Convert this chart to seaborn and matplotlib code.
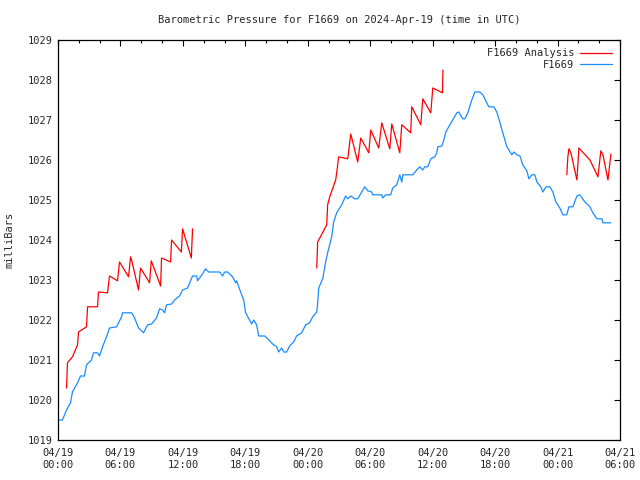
import numpy as np
import pandas as pd
import seaborn as sns
import matplotlib
matplotlib.use("Agg")
import matplotlib.pyplot as plt
from matplotlib.lines import Line2D

# observed pressure, hours since 2024-04-19 00:00 UTC
obs_hours = [0.0, 0.43, 0.82, 1.20, 1.39, 1.88, 2.16, 2.55, 2.74, 3.22, 3.41, 3.80, 3.99, 4.28, 4.66,
             4.95, 5.63, 6.11, 6.20, 7.07, 7.36, 7.74, 8.22, 8.61, 8.99, 9.47, 9.76, 10.05, 10.24,
             10.43, 10.91, 11.20, 11.68, 11.97, 12.45, 12.93, 13.32, 13.41, 13.89, 14.18, 14.47,
             15.53, 15.82, 16.01, 16.30, 16.78, 17.07, 17.16, 17.55, 17.84, 18.03, 18.41, 18.61,
             18.80, 19.09, 19.28, 19.86, 20.34, 20.63, 21.01, 21.20, 21.49, 21.68, 21.97, 22.26,
             22.64, 22.93, 23.41, 23.80, 24.18, 24.47, 24.86, 24.95, 25.05, 25.43, 25.72, 25.91,
             26.30, 26.49, 26.78, 27.26, 27.64, 27.84, 28.13, 28.51, 28.80, 29.47, 29.76, 30.14,
             30.24, 31.11, 31.20, 31.49, 31.97, 32.16, 32.55, 32.84, 33.03, 33.13, 34.09, 34.47,
             34.76, 35.05, 35.24, 35.53, 35.82, 36.20, 36.39, 36.49, 36.88, 37.07, 37.26, 37.55,
             37.93, 38.32, 38.51, 38.89, 39.09, 39.38, 39.76, 40.05, 40.53, 40.82, 41.20, 41.39,
             41.88, 42.16, 42.45, 42.74, 43.13, 43.61, 43.80, 44.09, 44.38, 44.66, 45.05, 45.24,
             45.53, 45.82, 46.01, 46.39, 46.59, 46.88, 47.26, 47.55, 47.84, 48.22, 48.51, 48.89,
             49.09, 49.47, 49.86, 50.14, 50.63, 51.11, 51.39, 51.78, 52.26, 52.36, 53.13]
obs_mb = [1019.50, 1019.50, 1019.75, 1019.93, 1020.20, 1020.43, 1020.60, 1020.60, 1020.88, 1021.00,
          1021.18, 1021.18, 1021.10, 1021.33, 1021.58, 1021.80, 1021.83, 1022.08, 1022.18, 1022.18,
          1022.05, 1021.80, 1021.68, 1021.88, 1021.90, 1022.05, 1022.28, 1022.25, 1022.18, 1022.38,
          1022.40, 1022.50, 1022.60, 1022.75, 1022.80, 1023.10, 1023.10, 1022.98, 1023.15, 1023.28,
          1023.20, 1023.20, 1023.10, 1023.20, 1023.20, 1023.08, 1022.93, 1022.98, 1022.70, 1022.50,
          1022.18, 1022.00, 1021.90, 1022.00, 1021.88, 1021.60, 1021.60, 1021.48, 1021.40, 1021.33,
          1021.20, 1021.30, 1021.20, 1021.20, 1021.35, 1021.45, 1021.60, 1021.68, 1021.88, 1021.93,
          1022.08, 1022.20, 1022.43, 1022.80, 1023.03, 1023.45, 1023.68, 1024.08, 1024.45, 1024.68,
          1024.88, 1025.10, 1025.03, 1025.10, 1025.03, 1025.03, 1025.33, 1025.23, 1025.20, 1025.13,
          1025.13, 1025.05, 1025.13, 1025.13, 1025.30, 1025.38, 1025.63, 1025.45, 1025.63, 1025.63,
          1025.75, 1025.83, 1025.75, 1025.83, 1025.83, 1026.03, 1026.08, 1026.18, 1026.33, 1026.35,
          1026.50, 1026.70, 1026.83, 1027.00, 1027.18, 1027.20, 1027.03, 1027.03, 1027.18, 1027.50,
          1027.70, 1027.70, 1027.63, 1027.43, 1027.33, 1027.33, 1027.20, 1026.95, 1026.68, 1026.33,
          1026.13, 1026.20, 1026.13, 1026.10, 1025.88, 1025.73, 1025.53, 1025.63, 1025.63, 1025.45,
          1025.33, 1025.20, 1025.33, 1025.33, 1025.20, 1024.95, 1024.80, 1024.63, 1024.63, 1024.83,
          1024.83, 1025.10, 1025.13, 1024.95, 1024.83, 1024.68, 1024.53, 1024.53, 1024.43, 1024.43]

# analysis, three runs
ana1_hours = [0.82, 0.91, 1.39, 1.88, 1.97, 2.74, 2.84, 3.80, 3.89, 4.76, 4.95, 5.72, 5.91, 6.78,
              6.97, 7.07, 7.74, 7.93, 8.80, 8.96, 9.86, 9.95, 10.82, 10.91, 11.85, 11.97, 12.81, 12.93]
ana1_mb = [1020.30, 1020.93, 1021.08, 1021.38, 1021.70, 1021.83, 1022.33, 1022.33, 1022.70, 1022.68,
           1023.10, 1022.98, 1023.45, 1023.08, 1023.58, 1023.50, 1022.75, 1023.30, 1022.93, 1023.48,
           1022.85, 1023.55, 1023.45, 1024.00, 1023.70, 1024.28, 1023.55, 1024.28]
ana2_hours = [24.86, 24.95, 25.82, 25.91, 26.11, 26.68, 26.78, 26.97, 27.84, 28.13, 28.80, 29.09,
              29.86, 30.05, 30.82, 31.11, 31.88, 32.07, 32.84, 33.03, 33.89, 33.99, 34.86, 35.05,
              35.82, 36.01, 36.94, 36.99]
ana2_mb = [1023.30, 1023.95, 1024.38, 1024.88, 1025.08, 1025.50, 1025.68, 1026.08, 1026.03, 1026.65,
           1025.95, 1026.55, 1026.18, 1026.75, 1026.30, 1026.93, 1026.28, 1026.90, 1026.18, 1026.88,
           1026.68, 1027.33, 1026.88, 1027.53, 1027.18, 1027.80, 1027.68, 1028.25]
ana3_hours = [48.89, 48.99, 49.09, 49.28, 49.86, 50.05, 51.11, 51.88, 52.16, 52.36, 52.84, 53.13]
ana3_mb = [1025.63, 1026.08, 1026.28, 1026.18, 1025.50, 1026.30, 1026.00, 1025.58, 1026.23, 1026.13,
           1025.50, 1026.15]

tick_hours = [0, 6, 12, 18, 24, 30, 36, 42, 48, 54]
tick_labels = ["04/19\n00:00", "04/19\n06:00", "04/19\n12:00", "04/19\n18:00", "04/20\n00:00",
               "04/20\n06:00", "04/20\n12:00", "04/20\n18:00", "04/21\n00:00", "04/21\n06:00"]

obs = pd.DataFrame({"h": obs_hours, "mb": obs_mb})
ana = pd.concat([
    pd.DataFrame({"h": ana1_hours, "mb": ana1_mb, "run": 1}),
    pd.DataFrame({"h": ana2_hours, "mb": ana2_mb, "run": 2}),
    pd.DataFrame({"h": ana3_hours, "mb": ana3_mb, "run": 3}),
])

sns.set_style("white")
plt.rcParams['font.family'] = ['DejaVu Sans Mono']
plt.rcParams['font.size'] = 7.5

fig = plt.figure(figsize=(6.4, 4.8), dpi=100)
ax = fig.add_axes([58 / 640, 40 / 480, 562 / 640, 400 / 480])

red = "#ff0000"
blue = "#1a8cff"
sns.lineplot(data=ana, x="h", y="mb", units="run", estimator=None, sort=False,
             color=red, linewidth=0.9, ax=ax)
sns.lineplot(data=obs, x="h", y="mb", estimator=None, sort=False,
             color=blue, linewidth=0.9, ax=ax)

ax.set_xlim(0, 54)
ax.set_ylim(1019, 1029)
ax.set_xticks(tick_hours)
ax.set_xticklabels(tick_labels)
ax.set_xticks(np.arange(0, 55, 2), minor=True)
ax.set_yticks(np.arange(1019, 1030, 1))
ax.tick_params(which="both", direction="in", top=True, right=True, length=4, width=0.8, color="black")
ax.tick_params(which="minor", length=2)
ax.tick_params(axis="x", pad=6)
for s in ax.spines.values():
    s.set_color("black")
    s.set_linewidth(0.9)

ax.set_xlabel("")
ax.set_ylabel("milliBars", labelpad=10)
ax.set_title("Barometric Pressure for F1669 on 2024-Apr-19 (time in UTC)", fontsize=7.5, pad=12)

handles = [Line2D([], [], color=red, lw=0.9), Line2D([], [], color=blue, lw=0.9)]
ax.legend(handles, ["F1669 Analysis", "F1669"], loc="upper right", frameon=False,
          markerfirst=False, handlelength=3.0, handletextpad=0.6, labelspacing=0.15,
          borderaxespad=0.4, fontsize=7.5)

fig.savefig("out.png", dpi=100)
